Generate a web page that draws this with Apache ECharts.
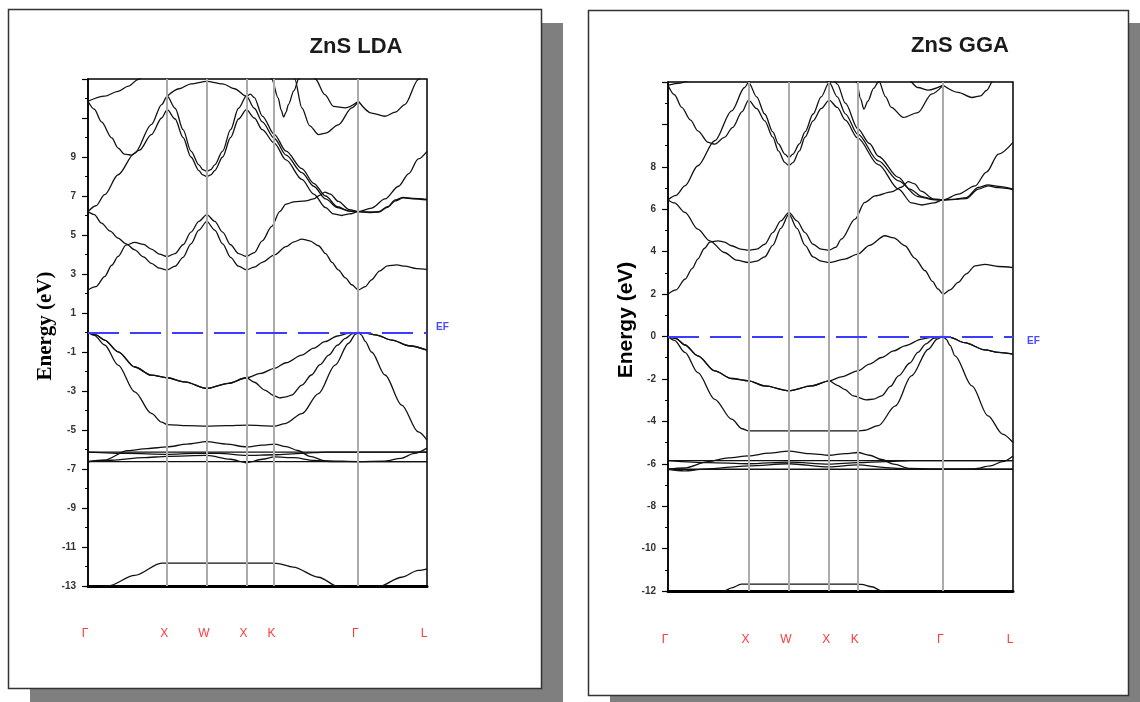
<!DOCTYPE html>
<html>
<head>
<meta charset="utf-8">
<script src="https://cdn.jsdelivr.net/npm/echarts@6/dist/echarts.min.js"></script>
<style>
  html, body { margin: 0; padding: 0; background: #ffffff; }
  #chart { width: 1140px; height: 702px; }
</style>
</head>
<body>
<div id="chart"></div>
<script>
// High-symmetry path Γ–X–W–X–K–Γ–L (path length in units of 2π/a)
const kPos = [0, 1, 1.5, 2, 2.354, 3.414, 4.28];
const kNames = ['Γ', 'X', 'W', 'X', 'K', 'Γ', 'L'];

// Labelled energy ticks (eV)
const ldaTickLabels = [-13, -11, -9, -7, -5, -3, -1, 1, 3, 5, 7, 9];
const ggaTickLabels = [-12, -10, -8, -6, -4, -2, 0, 2, 4, 6, 8];

// ---------- ZnS, LDA: bands as [k, E(eV)] ----------
const ldaS = [
  [[0,-13.4],[0.25,-13.0],[0.59,-12.46],[0.93,-11.83],[1,-11.83],[1.5,-11.83],[2,-11.83],[2.354,-11.83],[2.38,-11.84],[2.59,-12.03],[2.91,-12.55],[3.16,-13.03],[3.414,-13.3],[3.67,-13.03],[3.96,-12.55],[4.17,-12.2],[4.28,-12.12]]
];
const ldaD = [
  [[0,-6.13],[4.28,-6.13]],
  [[0,-6.62],[4.28,-6.62]],
  [[0,-6.62],[0.2,-6.55],[0.5,-6.06],[0.75,-5.95],[1,-5.87],[1.25,-5.72],[1.5,-5.6],[1.75,-5.72],[2,-5.87],[2.2,-5.78],[2.354,-5.72],[2.5,-5.85],[2.65,-6.05],[2.8,-6.35],[3.0,-6.58],[3.414,-6.62],[3.75,-6.6],[3.95,-6.45],[4.12,-6.2],[4.28,-5.93]],
  [[0,-6.13],[0.5,-6.2],[1,-6.25],[1.35,-6.2],[1.65,-6.2],[2,-6.3],[2.354,-6.27],[2.7,-6.2],[3.0,-6.13],[4.28,-6.13]],
  [[0,-6.62],[0.3,-6.55],[0.7,-6.42],[1,-6.35],[1.5,-6.3],[1.8,-6.5],[2,-6.68],[2.2,-6.5],[2.354,-6.38],[2.6,-6.42],[2.85,-6.56],[3.1,-6.62],[4.28,-6.62]]
];
const ldaValence = [
  [[0,0],[0.08,-0.15],[0.21,-0.64],[0.38,-1.67],[0.59,-3.04],[0.8,-4.15],[0.93,-4.6],[1,-4.72],[1.25,-4.78],[1.5,-4.8],[1.75,-4.78],[2,-4.75],[2.354,-4.8],[2.49,-4.67],[2.7,-4.16],[2.91,-3.13],[3.12,-1.67],[3.29,-0.55],[3.38,-0.08],[3.414,0],[3.45,-0.12],[3.5,-0.45],[3.58,-1.0],[3.75,-2.18],[3.96,-3.72],[4.17,-5.1],[4.28,-5.52]],
  [[0,0],[0.1,-0.12],[0.21,-0.39],[0.38,-0.99],[0.59,-1.77],[0.8,-2.19],[1,-2.32],[1.22,-2.53],[1.5,-2.87],[1.77,-2.61],[2,-2.32],[2.18,-2.1],[2.354,-1.84],[2.5,-1.55],[2.7,-1.16],[2.85,-0.8],[2.99,-0.47],[3.15,-0.18],[3.29,-0.04],[3.414,0],[3.5,-0.03],[3.63,-0.12],[3.84,-0.39],[4.05,-0.68],[4.28,-0.9]],
  [[0,0],[0.1,-0.12],[0.21,-0.39],[0.38,-0.99],[0.59,-1.77],[0.8,-2.19],[1,-2.32],[1.22,-2.53],[1.5,-2.87],[1.77,-2.61],[2,-2.32],[2.1,-2.55],[2.23,-2.95],[2.354,-3.25],[2.42,-3.35],[2.5,-3.3],[2.57,-3.21],[2.7,-2.7],[2.82,-2.18],[2.93,-1.65],[3.04,-1.16],[3.15,-0.65],[3.25,-0.3],[3.34,-0.06],[3.414,0],[3.5,-0.03],[3.63,-0.12],[3.84,-0.39],[4.05,-0.68],[4.28,-0.9]]
];
const ldaConduction = [
  [[0,2.18],[0.1,2.35],[0.21,2.87],[0.3,3.45],[0.38,3.9],[0.48,4.48],[0.59,4.62],[0.7,4.52],[0.8,4.28],[0.9,4.02],[1,3.9],[1.1,4.05],[1.2,4.5],[1.3,5.15],[1.4,5.7],[1.5,6.04],[1.6,5.7],[1.7,5.15],[1.8,4.5],[1.9,4.05],[2,3.9],[2.1,4.1],[2.2,4.7],[2.32,5.44],[2.42,6.2],[2.5,6.58],[2.6,6.7],[2.75,6.75],[2.85,6.85],[2.93,7.05],[2.99,7.2],[3.06,7.1],[3.16,6.72],[3.3,6.3],[3.414,6.2],[3.55,6.18],[3.67,6.2],[3.78,6.45],[3.88,6.8],[3.98,6.93],[4.1,6.88],[4.28,6.83]],
  [[0,6.2],[0.08,6.05],[0.17,5.61],[0.28,5.2],[0.38,4.84],[0.48,4.55],[0.59,4.24],[0.7,3.88],[0.8,3.55],[0.9,3.3],[1,3.21],[1.1,3.4],[1.2,3.85],[1.3,4.55],[1.4,5.25],[1.5,5.7],[1.6,5.25],[1.7,4.55],[1.8,3.85],[1.9,3.4],[2,3.21],[2.1,3.35],[2.2,3.6],[2.354,3.98],[2.5,4.4],[2.6,4.65],[2.7,4.79],[2.8,4.7],[2.91,4.45],[3.0,4.05],[3.08,3.6],[3.16,3.21],[3.25,2.8],[3.33,2.45],[3.414,2.18],[3.5,2.35],[3.58,2.7],[3.68,3.15],[3.78,3.42],[3.9,3.47],[4.0,3.4],[4.15,3.28],[4.28,3.24]],
  [[0,6.2],[0.1,6.5],[0.21,7.07],[0.38,8.09],[0.59,9.2],[0.8,10.66],[0.93,11.69],[1,12.12],[1.1,11.5],[1.2,10.4],[1.3,9.3],[1.4,8.6],[1.45,8.35],[1.5,8.27],[1.55,8.35],[1.6,8.6],[1.7,9.3],[1.8,10.4],[1.9,11.5],[2,12.12],[2.1,11.5],[2.2,10.8],[2.354,9.95],[2.5,9.1],[2.7,8.2],[2.85,7.5],[3.0,6.85],[3.15,6.4],[3.3,6.22],[3.414,6.2],[3.58,6.38],[3.75,6.85],[3.92,7.5],[4.05,8.15],[4.17,8.9],[4.28,9.29]],
  [[0,11.86],[0.08,11.45],[0.17,10.8],[0.3,9.98],[0.38,9.46],[0.46,9.15],[0.55,9.1],[0.65,9.35],[0.8,10.15],[0.93,11.0],[1,11.43],[1.1,10.95],[1.2,10.0],[1.3,9.0],[1.4,8.3],[1.45,8.08],[1.5,8.0],[1.55,8.08],[1.6,8.3],[1.7,9.0],[1.8,10.0],[1.9,10.95],[2,11.43],[2.1,11.0],[2.2,10.4],[2.354,9.7],[2.5,8.85],[2.7,7.85],[2.85,7.1],[3.0,6.4],[3.1,6.08],[3.2,6.0],[3.3,6.08],[3.414,6.2],[3.55,6.15],[3.67,6.17],[3.78,6.42],[3.88,6.75],[3.98,6.9],[4.1,6.86],[4.28,6.8]],
  [[0,11.86],[0.21,12.12],[0.38,12.37],[0.51,12.63],[0.63,12.97],[0.75,13.3],[0.85,13.6]],
  [[1,12.12],[1.15,12.5],[1.3,12.75],[1.5,12.88],[1.7,12.75],[1.85,12.5],[2,12.12],[2.05,12.22],[2.1,12.05],[2.2,11.1],[2.354,10.15],[2.5,9.3],[2.7,8.4],[2.85,7.65],[3.0,7.0],[3.15,6.45],[3.3,6.22],[3.414,6.2]],
  [[2.25,13.6],[2.32,13.0],[2.4,12.03],[2.44,11.4],[2.47,11.05],[2.5,11.3],[2.53,11.69],[2.6,12.4],[2.66,13.0],[2.72,13.6]],
  [[2.56,13.6],[2.61,13.0],[2.7,11.52],[2.8,10.6],[2.91,10.15],[3.0,10.22],[3.16,10.65],[3.33,11.52],[3.414,11.86]],
  [[2.8,13.6],[2.87,13.0],[2.99,12.2],[3.1,11.6],[3.25,11.52],[3.414,11.86]],
  [[3.414,11.86],[3.58,11.25],[3.75,11.09],[3.88,11.3],[4.0,11.69],[4.17,12.97],[4.25,13.5]]
];

// ---------- ZnS, GGA: bands as [k, E(eV)] ----------
const ggaS = [
  [[0,-13.2],[0.5,-12.45],[0.7,-12.0],[0.79,-11.85],[0.91,-11.68],[1,-11.68],[1.5,-11.68],[2,-11.68],[2.354,-11.68],[2.4,-11.69],[2.53,-11.8],[2.65,-12.0],[2.85,-12.4],[3.1,-12.9],[3.414,-13.2],[3.8,-12.75],[4.28,-12.35]]
];
const ggaD = [
  [[0,-5.85],[4.28,-5.85]],
  [[0,-6.26],[4.28,-6.26]],
  [[0,-6.26],[0.2,-6.2],[0.5,-5.9],[0.75,-5.72],[1,-5.63],[1.25,-5.5],[1.5,-5.4],[1.75,-5.52],[2,-5.6],[2.2,-5.52],[2.354,-5.47],[2.5,-5.6],[2.65,-5.8],[2.8,-6.02],[3.0,-6.22],[3.414,-6.26],[3.8,-6.24],[4.0,-6.1],[4.15,-5.9],[4.28,-5.63]],
  [[0,-5.85],[0.5,-5.95],[1,-6.0],[1.5,-5.92],[2,-6.02],[2.354,-5.95],[2.7,-5.9],[3.0,-5.85],[4.28,-5.85]],
  [[0,-6.26],[0.2,-6.34],[0.45,-6.25],[1,-6.1],[1.5,-6.0],[2,-6.15],[2.354,-6.05],[2.7,-6.18],[3.0,-6.26],[4.28,-6.26]]
];
const ggaValence = [
  [[0,0],[0.08,-0.18],[0.21,-0.75],[0.37,-1.7],[0.58,-2.96],[0.79,-3.9],[0.92,-4.35],[1,-4.45],[1.5,-4.45],[2,-4.45],[2.354,-4.45],[2.44,-4.42],[2.61,-4.2],[2.82,-3.27],[3.02,-1.86],[3.23,-0.6],[3.34,-0.12],[3.414,0],[3.45,-0.12],[3.5,-0.42],[3.56,-0.91],[3.77,-2.33],[3.97,-3.74],[4.15,-4.6],[4.28,-5.0]],
  [[0,0],[0.1,-0.1],[0.21,-0.4],[0.37,-0.91],[0.58,-1.62],[0.79,-1.98],[1,-2.09],[1.2,-2.33],[1.5,-2.56],[1.78,-2.33],[2,-2.09],[2.15,-1.9],[2.354,-1.62],[2.5,-1.3],[2.65,-0.99],[2.8,-0.68],[2.94,-0.44],[3.15,-0.12],[3.3,-0.02],[3.414,0],[3.5,-0.04],[3.68,-0.29],[3.93,-0.63],[4.1,-0.75],[4.28,-0.83]],
  [[0,0],[0.1,-0.1],[0.21,-0.4],[0.37,-0.91],[0.58,-1.62],[0.79,-1.98],[1,-2.09],[1.2,-2.33],[1.5,-2.56],[1.78,-2.33],[2,-2.09],[2.1,-2.3],[2.19,-2.49],[2.3,-2.8],[2.46,-2.99],[2.55,-2.95],[2.65,-2.8],[2.76,-2.35],[2.86,-1.86],[3.0,-1.25],[3.1,-0.75],[3.2,-0.35],[3.3,-0.08],[3.414,0],[3.5,-0.04],[3.68,-0.29],[3.93,-0.63],[4.1,-0.75],[4.28,-0.83]]
];
const ggaConduction = [
  [[0,2.0],[0.1,2.2],[0.21,2.7],[0.3,3.2],[0.37,3.65],[0.45,4.15],[0.52,4.45],[0.62,4.51],[0.7,4.45],[0.79,4.28],[0.9,4.12],[1,4.07],[1.1,4.12],[1.2,4.35],[1.3,4.9],[1.4,5.45],[1.5,5.85],[1.6,5.45],[1.7,4.9],[1.8,4.35],[1.9,4.12],[2,4.07],[2.08,4.2],[2.15,4.59],[2.32,5.53],[2.44,6.32],[2.57,6.63],[2.77,6.82],[2.9,7.05],[2.98,7.3],[3.06,7.2],[3.14,6.85],[3.3,6.48],[3.414,6.44],[3.56,6.47],[3.7,6.55],[3.85,7.03],[3.97,7.15],[4.1,7.08],[4.28,6.95]],
  [[0,6.44],[0.08,6.3],[0.21,5.85],[0.37,5.06],[0.52,4.51],[0.7,3.96],[0.85,3.6],[1,3.49],[1.1,3.55],[1.2,3.75],[1.3,4.3],[1.4,5.1],[1.5,5.77],[1.6,5.1],[1.7,4.3],[1.8,3.75],[1.9,3.55],[2,3.49],[2.19,3.65],[2.354,3.88],[2.5,4.3],[2.69,4.75],[2.8,4.65],[2.94,4.28],[3.06,3.7],[3.19,3.1],[3.28,2.6],[3.35,2.24],[3.414,2.0],[3.5,2.2],[3.6,2.55],[3.7,2.95],[3.81,3.33],[3.93,3.4],[4.1,3.3],[4.28,3.25]],
  [[0,6.44],[0.1,6.65],[0.21,7.1],[0.37,8.05],[0.58,9.23],[0.79,10.64],[0.95,11.74],[1,11.98],[1.1,11.3],[1.2,10.49],[1.3,9.65],[1.37,9.08],[1.45,8.6],[1.5,8.44],[1.55,8.6],[1.63,9.08],[1.7,9.65],[1.8,10.49],[1.9,11.3],[2,11.98],[2.1,11.3],[2.2,10.5],[2.354,9.54],[2.61,8.28],[2.86,7.34],[3.1,6.6],[3.3,6.45],[3.414,6.44],[3.6,6.71],[3.81,7.1],[3.95,7.75],[4.1,8.6],[4.28,9.15]],
  [[0,11.85],[0.08,11.4],[0.17,10.8],[0.28,10.2],[0.37,9.7],[0.5,9.15],[0.58,9.07],[0.7,9.39],[0.8,9.85],[0.92,10.6],[1,11.15],[1.1,10.75],[1.2,10.17],[1.3,9.4],[1.37,8.75],[1.45,8.2],[1.5,8.05],[1.55,8.2],[1.63,8.75],[1.7,9.4],[1.8,10.17],[1.9,10.75],[2,11.15],[2.1,10.8],[2.2,10.2],[2.354,9.35],[2.61,8.1],[2.86,6.95],[3.02,6.3],[3.15,6.2],[3.3,6.3],[3.414,6.44],[3.56,6.47],[3.7,6.5],[3.85,6.95],[3.97,7.1],[4.1,7.02],[4.28,6.93]],
  [[0,11.85],[0.15,11.95],[0.3,12.1],[0.45,12.4]],
  [[1,11.98],[1.15,12.5],[1.3,12.75],[1.5,12.85],[1.7,12.75],[1.85,12.5],[2,11.98],[2.05,12.1],[2.1,11.9],[2.2,11.0],[2.354,9.8],[2.5,9.1],[2.61,8.5],[2.86,7.5],[3.0,6.95],[3.15,6.6],[3.3,6.46],[3.414,6.44]],
  [[2.25,12.8],[2.34,12.0],[2.39,11.2],[2.43,10.72],[2.48,11.1],[2.55,11.7],[2.61,12.0],[2.68,12.6]],
  [[2.58,12.6],[2.61,12.1],[2.7,11.3],[2.77,10.8],[2.92,10.33],[3.1,10.56],[3.27,11.43],[3.414,11.85]],
  [[2.9,12.6],[2.98,12.1],[3.1,11.74],[3.23,11.62],[3.414,11.85]],
  [[3.414,11.85],[3.6,11.51],[3.77,11.27],[3.88,11.35],[3.95,11.6],[4.04,12.1],[4.12,12.6]]
];

// ---------- chart assembly ----------
const SANS = '"Liberation Sans", Arial, sans-serif';
const SERIF = '"Liberation Serif", "Times New Roman", serif';

function bandSeries(bands, gi) {
  return bands.map(b => ({
    type: 'line', xAxisIndex: gi, yAxisIndex: gi, data: b,
    smooth: 0.3, smoothMonotone: 'x', showSymbol: false, symbol: 'none',
    silent: true, animation: false, z: 3,
    lineStyle: { color: '#111', width: 1.3 }
  }));
}

// Symmetry-point guides and the dashed Fermi level
function guideSeries(gi, efAlign, efDist) {
  return {
    type: 'line', xAxisIndex: gi, yAxisIndex: gi, data: [], z: 2,
    silent: true, animation: false,
    markLine: {
      silent: true, symbol: 'none', animation: false,
      data: kPos.slice(1, 6).map(k => ({
        xAxis: k,
        lineStyle: { color: '#ababab', width: 2, type: 'solid' },
        label: { show: false }
      })).concat([{
        yAxis: 0,
        lineStyle: { color: '#3c3cff', width: 2, type: [31, 11] },
        label: {
          show: true, position: 'end', formatter: 'EF', distance: efDist,
          color: '#4a4aff', fontSize: 10, fontWeight: 'bold', fontFamily: SANS,
          verticalAlign: efAlign, lineHeight: 10
        }
      }])
    }
  };
}

function yAxis(gi, min, max, shown) {
  return {
    gridIndex: gi, type: 'value', min: min, max: max, interval: 2,
    axisLine: { show: true, lineStyle: { color: '#000', width: 1.5 } },
    axisTick: { show: true, length: 6, lineStyle: { color: '#000', width: 1.2 } },
    minorTick: { show: true, splitNumber: 2, length: 3, lineStyle: { color: '#000', width: 1 } },
    splitLine: { show: false },
    axisLabel: {
      formatter: v => (shown.indexOf(Math.round(v)) >= 0 ? String(Math.round(v)) : ''),
      fontSize: 10, fontWeight: 'bold', color: '#333', margin: 12, fontFamily: SANS
    }
  };
}

function xAxis(gi, margin) {
  return {
    gridIndex: gi, type: 'value', min: 0, max: 4.28, position: 'bottom',
    axisLine: { show: true, onZero: false, lineStyle: { color: '#000', width: 3 } },
    axisTick: { show: false },
    splitLine: { show: false },
    axisLabel: {
      customValues: kPos,
      formatter: v => kNames[kPos.findIndex(k => Math.abs(k - v) < 1e-6)] || '',
      color: '#ff3a3a', fontSize: 12, margin: margin, fontFamily: SANS,
      padding: [0, 6, 0, 0],
      showMinLabel: true, showMaxLabel: true, hideOverlap: false
    }
  };
}

const option = {
  backgroundColor: '#ffffff',
  animation: false,
  graphic: [
    { type: 'rect', z: -10, silent: true, shape: { x: 30, y: 23, width: 533, height: 690 }, style: { fill: '#7f7f7f' } },
    { type: 'rect', z: -9, silent: true, shape: { x: 8.5, y: 9.5, width: 533, height: 679 }, style: { fill: '#ffffff', stroke: '#333', lineWidth: 1.5 } },
    { type: 'rect', z: -10, silent: true, shape: { x: 610, y: 23, width: 540, height: 690 }, style: { fill: '#7f7f7f' } },
    { type: 'rect', z: -9, silent: true, shape: { x: 588.5, y: 10.5, width: 540, height: 685 }, style: { fill: '#ffffff', stroke: '#333', lineWidth: 1.5 } },
    { type: 'text', silent: true, x: 356, y: 47, style: { text: 'ZnS LDA', font: 'bold 22px ' + SANS, fill: '#1b1b1b', align: 'center', verticalAlign: 'middle', textAlign: 'center', textVerticalAlign: 'middle' } },
    { type: 'text', silent: true, x: 960, y: 46, style: { text: 'ZnS GGA', font: 'bold 22px ' + SANS, fill: '#1b1b1b', align: 'center', verticalAlign: 'middle', textAlign: 'center', textVerticalAlign: 'middle' } },
    { type: 'text', silent: true, x: 46, y: 326, rotation: Math.PI / 2, style: { text: 'Energy (eV)', font: 'bold 21px ' + SERIF, fill: '#000', align: 'center', verticalAlign: 'middle', textAlign: 'center', textVerticalAlign: 'middle' } },
    { type: 'text', silent: true, x: 626, y: 320, rotation: Math.PI / 2, style: { text: 'Energy (eV)', font: 'bold 21px ' + SANS, fill: '#000', align: 'center', verticalAlign: 'middle', textAlign: 'center', textVerticalAlign: 'middle' } }
  ],
  grid: [
    { left: 88, top: 79, width: 339, height: 507, show: true, borderColor: '#000', borderWidth: 1.5, backgroundColor: 'transparent' },
    { left: 668, top: 82, width: 345, height: 509, show: true, borderColor: '#000', borderWidth: 1.5, backgroundColor: 'transparent' }
  ],
  xAxis: [xAxis(0, 42), xAxis(1, 43)],
  yAxis: [yAxis(0, -13, 13, ldaTickLabels), yAxis(1, -12, 12, ggaTickLabels)],
  series: [
    guideSeries(0, 'bottom', 9),
    guideSeries(1, 'top', 14)
  ].concat(
    bandSeries(ldaS.concat(ldaD, ldaValence, ldaConduction), 0),
    bandSeries(ggaS.concat(ggaD, ggaValence, ggaConduction), 1)
  )
};

const chart = echarts.init(document.getElementById('chart'), null, { renderer: 'canvas' });
chart.setOption(option);
</script>
</body>
</html>
